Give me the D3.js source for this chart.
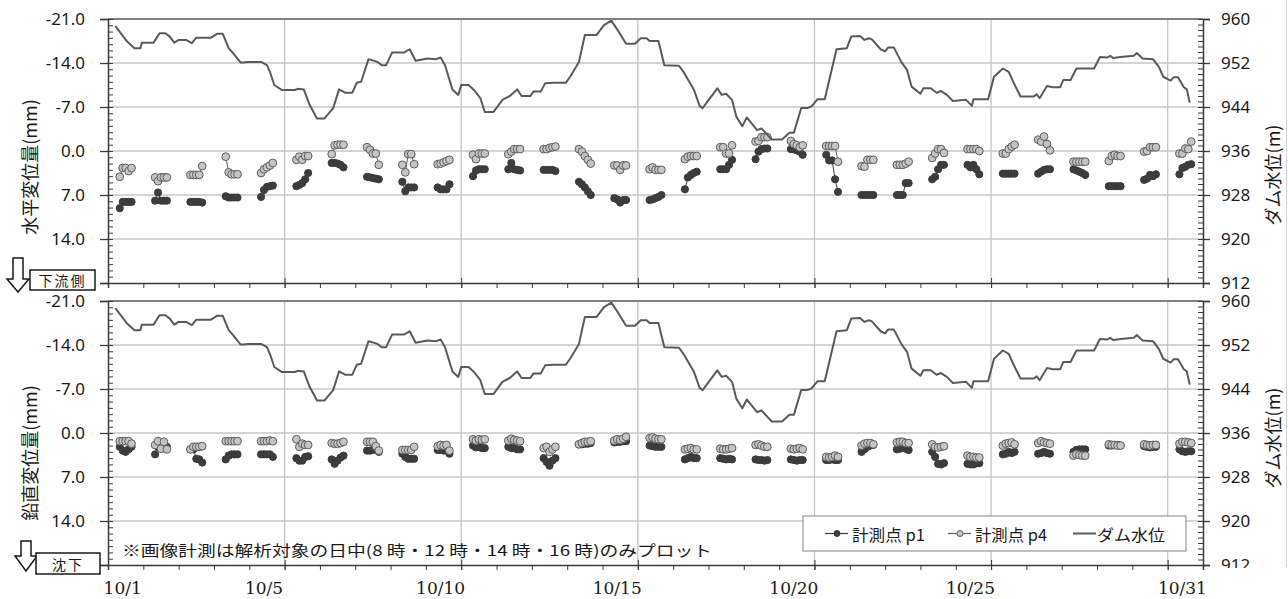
<!DOCTYPE html>
<html>
<head>
<meta charset="utf-8">
<script src="https://cdn.jsdelivr.net/npm/d3@7"></script>
<style>
  body { margin: 0; background: #fff; }
  svg { display: block; }
</style>
</head>
<body>
<svg id="chart" width="1288" height="599"></svg>
<script>
// ---- data -------------------------------------------------------------
// image-measurement hours of each day
const hours = [8, 10, 12, 14, 16];
const days = d3.range(1, 32);

// horizontal displacement (mm), positive = downstream; one row per day
const horizP1 = [
  [9.1, 8.1, 8.1, 8.1, 8.1], [7.9, 6.6, 7.9, 7.9, 7.9], [8.1, 8.1, 8.1, 8.1, 8.2],
  [7.2, 7.4, 7.4, 7.4, 7.4], [7.3, 6.2, 5.7, 5.6, 5.5], [5.6, 5.4, 5.1, 4.5, 3.5],
  [1.9, 1.9, 2.0, 2.2, 2.6], [4.1, 4.2, 4.3, 4.4, 4.5], [4.9, 6.4, 5.8, 5.8, 5.8],
  [5.8, 6.1, 6.1, 6.1, 5.3], [4.0, 3.1, 2.9, 2.9, 2.9], [2.9, 1.9, 2.9, 3.0, 3.1],
  [3.0, 3.0, 3.0, 3.0, 3.2], [4.9, 5.3, 5.8, 6.4, 7.0], [7.5, 7.7, 8.2, 7.8, 7.8],
  [7.8, 7.7, 7.5, 7.3, 7.0], [6.1, 4.2, 3.8, 3.5, 3.3], [2.9, 2.9, 2.9, 2.2, 1.4],
  [1.3, 0.1, -0.3, -0.4, -0.4], [-0.3, -0.3, -0.1, 0.1, 0.6], [0.6, 1.5, 1.5, 4.5, 6.5],
  [7.0, 7.0, 7.0, 7.0, 7.0], [7.0, 7.0, 7.0, 5.1, 5.1], [4.5, 4.1, 2.9, 2.2, 2.2],
  [2.2, 2.6, 2.2, 2.9, 3.7], [3.6, 3.6, 3.6, 3.6, 3.6], [3.6, 3.3, 3.0, 2.9, 2.9],
  [2.9, 3.1, 3.3, 3.5, 3.8], [5.6, 5.6, 5.6, 5.6, 5.6], [4.6, 4.4, 3.8, 4.0, 3.7],
  [3.7, 2.7, 2.5, 2.2, 2.1]
];
const horizP4 = [
  [4.1, 2.7, 2.7, 3.2, 2.7], [4.2, 4.8, 4.2, 4.2, 4.2], [3.8, 3.8, 3.8, 3.8, 2.4],
  [0.9, 3.4, 3.7, 3.7, 3.7], [3.5, 2.9, 2.6, 2.3, 1.9], [1.4, 0.9, 1.4, 0.8, 0.8],
  [0.5, -0.9, -1.0, -1.0, -1.0], [-0.6, -0.2, 0.4, 0.4, 2.2], [2.2, 3.4, 0.5, 0.5, 2.1],
  [2.1, 2.0, 1.8, 1.6, 1.4], [0.6, 1.3, 0.4, 0.4, 0.4], [0.5, 0.1, -0.3, -0.3, -0.3],
  [-0.3, -0.3, -0.5, -0.6, -0.7], [-0.3, 0.1, 0.8, 1.4, 2.0], [2.3, 2.3, 3.0, 2.3, 2.3],
  [2.9, 2.6, 3.0, 3.0, 3.0], [1.3, 0.9, 0.8, 0.8, 0.8], [-0.6, -0.6, 0.4, 0.4, -0.9],
  [-1.5, -1.6, -2.2, -2.2, -2.2], [-1.6, -1.1, -0.9, -0.6, -0.9], [-0.8, -0.8, -0.8, -0.8, 1.7],
  [2.4, 2.5, 1.4, 1.4, 1.4], [2.2, 2.2, 2.2, 2.0, 1.7], [1.1, 0.4, -0.3, -0.3, 0.3],
  [-0.3, -0.3, -0.3, -0.3, 0.0], [0.4, 0.4, -0.3, -0.7, -1.0], [-1.8, -1.5, -2.3, -1.1, -0.1],
  [1.7, 1.7, 1.7, 1.7, 1.7], [1.6, 0.8, 0.6, 0.8, 0.8], [0.1, 0.0, -0.6, -0.6, -0.6],
  [0.4, 0.4, -0.4, -0.3, -1.5]
];

// vertical displacement (mm), positive = settlement
const vertP1 = [
  [2.2, 2.8, 3.0, 2.6, 2.2], [3.4, 2.2, 2.2, 2.2, 2.2], [2.6, 2.6, 4.1, 4.2, 4.7],
  [4.2, 3.6, 3.4, 3.4, 3.4], [3.4, 3.4, 3.4, 3.4, 3.8], [4.0, 4.4, 4.4, 3.8, 3.7],
  [4.2, 4.9, 4.4, 3.9, 3.6], [2.8, 2.8, 2.7, 2.5, 3.0], [3.3, 3.8, 4.1, 4.1, 4.1],
  [2.7, 2.7, 2.8, 2.8, 3.3], [2.0, 2.3, 2.2, 2.4, 2.4], [2.2, 2.4, 2.4, 2.6, 2.6],
  [4.0, 4.6, 5.2, 4.4, 4.0], [1.8, 1.8, 1.7, 1.7, 1.6], [1.5, 1.4, 1.4, 1.3, 1.3],
  [2.0, 2.1, 2.2, 2.2, 2.2], [4.2, 4.0, 3.8, 4.0, 4.0], [4.0, 4.1, 4.2, 4.1, 4.2],
  [4.2, 4.3, 4.3, 4.4, 4.3], [4.2, 4.3, 4.4, 4.3, 4.3], [4.3, 4.3, 4.2, 4.3, 4.3],
  [3.0, 2.6, 2.2, 2.0, 1.9], [2.6, 2.5, 2.2, 2.5, 2.7], [3.0, 3.8, 4.9, 5.0, 4.8],
  [4.9, 5.0, 5.0, 4.8, 4.8], [3.4, 3.3, 3.0, 3.2, 3.0], [3.3, 3.2, 3.0, 3.2, 3.3],
  [3.0, 2.7, 2.6, 2.6, 2.6], [2.0, 2.0, 1.9, 1.9, 2.0], [2.1, 2.2, 2.3, 2.2, 2.2],
  [2.6, 2.9, 3.0, 2.9, 2.9]
];
const vertP4 = [
  [1.3, 1.3, 1.3, 1.3, 1.7], [1.9, 1.3, 2.5, 1.4, 2.6], [2.6, 2.2, 2.2, 2.2, 2.1],
  [1.3, 1.3, 1.3, 1.3, 1.3], [1.3, 1.3, 1.3, 1.2, 1.3], [1.0, 2.2, 1.7, 1.9, 1.9],
  [1.6, 1.7, 1.7, 1.6, 1.4], [1.4, 1.4, 1.4, 2.1, 2.8], [2.7, 2.7, 2.7, 2.7, 2.2],
  [2.1, 1.9, 2.0, 1.9, 2.8], [1.0, 1.2, 1.0, 1.1, 1.0], [1.2, 0.9, 1.1, 1.2, 1.3],
  [2.4, 2.2, 3.0, 2.6, 2.2], [1.8, 1.6, 1.4, 1.4, 1.3], [1.2, 1.0, 1.1, 0.9, 0.6],
  [0.8, 0.7, 0.9, 1.0, 1.0], [2.6, 2.5, 2.4, 2.6, 2.6], [2.5, 2.6, 2.6, 2.5, 2.4],
  [1.9, 1.8, 2.0, 2.2, 2.2], [2.5, 2.6, 2.5, 2.4, 2.6], [3.8, 3.9, 3.8, 3.6, 3.8],
  [2.0, 1.7, 1.6, 1.6, 1.8], [1.5, 1.4, 1.4, 1.6, 1.6], [1.8, 2.2, 2.3, 2.2, 2.1],
  [3.6, 3.8, 3.8, 3.9, 3.9], [2.0, 1.7, 1.6, 1.5, 1.8], [1.6, 1.3, 1.5, 1.6, 1.7],
  [3.6, 3.4, 3.5, 3.6, 3.6], [1.8, 1.9, 1.9, 2.0, 2.0], [1.8, 1.9, 2.0, 1.9, 1.9],
  [1.7, 1.4, 1.4, 1.5, 1.6]
];

// dam water level (m)
const levelTimes = [
  "10/01 05:00", "10/01 13:00", "10/01 18:00", "10/01 22:00", "10/01 23:00", "10/02 07:00",
  "10/02 11:00", "10/02 15:00", "10/02 18:00", "10/02 21:00", "10/03 00:00", "10/03 05:00",
  "10/03 09:00", "10/03 12:00", "10/03 22:00", "10/04 02:00", "10/04 06:00", "10/04 10:00",
  "10/04 13:00", "10/04 18:00", "10/04 20:00", "10/04 23:00", "10/05 08:00", "10/05 12:00",
  "10/05 14:00", "10/05 17:00", "10/05 22:00", "10/06 07:00", "10/06 09:00", "10/06 13:00",
  "10/06 17:00", "10/06 22:00", "10/07 03:00", "10/07 09:00", "10/07 13:00", "10/07 17:00",
  "10/07 22:00", "10/08 01:00", "10/08 04:00", "10/08 09:00", "10/08 15:00", "10/08 18:00",
  "10/08 21:00", "10/09 01:00", "10/09 09:00", "10/09 13:00", "10/09 17:00", "10/10 01:00",
  "10/10 07:00", "10/10 10:00", "10/10 13:00", "10/10 18:00", "10/10 22:00", "10/11 00:00",
  "10/11 05:00", "10/11 09:00", "10/11 13:00", "10/11 16:00", "10/11 22:00", "10/12 04:00",
  "10/12 09:00", "10/12 14:00", "10/12 17:00", "10/12 23:00", "10/13 01:00", "10/13 06:00",
  "10/13 09:00", "10/13 15:00", "10/13 23:00", "10/14 02:00", "10/14 08:00", "10/14 12:00",
  "10/14 20:00", "10/15 01:00", "10/15 06:00", "10/15 11:00", "10/15 16:00", "10/15 22:00",
  "10/16 02:00", "10/16 06:00", "10/16 08:00", "10/16 14:00", "10/16 18:00", "10/17 04:00",
  "10/17 07:00", "10/17 14:00", "10/17 18:00", "10/17 20:00", "10/18 06:00", "10/18 09:00",
  "10/18 12:00", "10/18 16:00", "10/18 19:00", "10/18 23:00", "10/19 02:00", "10/19 09:00",
  "10/19 12:00", "10/19 19:00", "10/20 02:00", "10/20 07:00", "10/20 10:00", "10/20 15:00",
  "10/20 19:00", "10/20 22:00", "10/21 02:00", "10/21 07:00", "10/21 15:00", "10/21 22:00",
  "10/22 01:00", "10/22 07:00", "10/22 10:00", "10/22 13:00", "10/22 15:00", "10/22 21:00",
  "10/23 00:00", "10/23 02:00", "10/23 06:00", "10/23 11:00", "10/23 15:00", "10/23 18:00",
  "10/24 00:00", "10/24 02:00", "10/24 07:00", "10/24 11:00", "10/24 14:00", "10/24 18:00",
  "10/24 22:00", "10/25 07:00", "10/25 11:00", "10/25 12:00", "10/25 22:00", "10/26 02:00",
  "10/26 08:00", "10/26 12:00", "10/26 15:00", "10/26 20:00", "10/27 05:00", "10/27 07:00",
  "10/27 09:00", "10/27 14:00", "10/27 18:00", "10/27 23:00", "10/28 01:00", "10/28 06:00",
  "10/28 10:00", "10/28 22:00", "10/29 02:00", "10/29 07:00", "10/29 09:00", "10/29 11:00",
  "10/29 16:00", "10/30 01:00", "10/30 03:00", "10/30 07:00", "10/30 14:00", "10/30 18:00",
  "10/30 21:00", "10/31 02:00", "10/31 04:00", "10/31 07:00", "10/31 11:00", "10/31 13:00",
  "10/31 15:00"
];
const levelValues = [
  958.7, 955.9, 954.7, 954.7, 955.7, 955.7,
  957.4, 957.4, 956.8, 955.7, 956.2, 956.2,
  955.6, 956.6, 956.6, 957.3, 957.3, 954.7,
  953.8, 952.1, 952.1, 952.2, 952.2, 951.6,
  950.4, 948.0, 947.1, 947.1, 947.3, 947.2,
  944.4, 941.9, 941.9, 943.8, 947.2, 946.6,
  946.6, 948.4, 948.6, 952.7, 952.2, 951.6,
  951.6, 953.9, 953.9, 954.5, 952.4, 952.8,
  952.7, 953.0, 951.6, 947.2, 946.2, 948.0,
  948.0, 947.0, 945.6, 943.1, 943.1, 945.3,
  946.0, 947.2, 946.0, 946.0, 946.8, 946.8,
  948.3, 948.4, 948.4, 949.5, 952.2, 957.1,
  957.1, 958.9, 959.7, 957.7, 955.5, 955.5,
  956.5, 956.5, 956.0, 956.0, 951.6, 951.5,
  950.4, 947.2, 944.2, 943.8, 947.4, 946.2,
  946.4, 945.3, 942.2, 940.5, 942.1, 939.8,
  940.1, 938.1, 938.1, 939.3, 939.3, 943.8,
  943.8, 944.1, 945.4, 945.4, 954.5, 954.7,
  956.8, 956.9, 956.2, 956.5, 956.3, 954.5,
  954.1, 954.8, 954.8, 952.2, 950.7, 947.7,
  946.4, 947.4, 947.4, 946.6, 946.9, 946.2,
  945.1, 945.3, 944.2, 945.4, 945.4, 949.5,
  951.0, 950.4, 948.6, 945.9, 945.9, 946.3,
  945.6, 947.8, 947.6, 947.6, 948.9, 948.9,
  951.0, 951.0, 953.1, 953.0, 953.3, 952.9,
  953.1, 953.3, 953.8, 952.8, 952.7, 951.3,
  949.5, 948.8, 949.4, 949.4, 947.6, 947.2,
  944.8
];

// axis labels
const dispTicks = [-21, -14, -7, 0, 7, 14, 21];
const levelTicks = [960, 952, 944, 936, 928, 920, 912];
const dateLabels = ["10/1", "10/5", "10/10", "10/15", "10/20", "10/25", "10/31"];
const dateLabelDays = [1, 5, 10, 15, 20, 25, 31];
const legendLabels = ["計測点 p1", "計測点 p4", "ダム水位"];

// ---- drawing ----------------------------------------------------------
const svg = d3.select("#chart");
const parseTime = d3.utcParse("%m/%d %H:%M");
const x = d3.scaleUtc()
  .domain([parseTime("10/01 00:00"), parseTime("11/01 00:00")])
  .range([108, 1203]);

const level = levelTimes.map((t, i) => ({ t: parseTime(t), v: levelValues[i] }));
const dayStart = d => parseTime(`10/${d} 00:00`);

const SANS = "'Noto Sans', 'Open Sans', sans-serif";
const CJK = "'Noto Sans CJK JP', 'Noto Sans', sans-serif";
const SERIF = "'DejaVu Serif', 'Liberation Serif', serif";

const C_AXIS = "#3a3a3a";
const C_GRID = "#c6c6c6";
const C_P1 = "#3c3c3c";
const C_P4FILL = "#c4c4c4";
const C_P4LINE = "#5e5e5e";
const C_LEVEL = "#5a5a5a";

const panels = [
  { top: 19, bottom: 283, p1: horizP1, p4: horizP4, title: "水平変位量(mm)", titleY: 167, rTitleY: 175 },
  { top: 301, bottom: 565, p1: vertP1, p4: vertP4, title: "鉛直変位量(mm)", titleY: 453, rTitleY: 438 }
];

panels.forEach((p, idx) => {
  const g = svg.append("g");
  if (idx === 1) {
    // second chart sits on its own white sheet
    g.append("rect").attr("x", 0).attr("y", 289).attr("width", 1284).attr("height", 310).attr("fill", "#fff");
  }
  const y = d3.scaleLinear().domain([-21, 21]).range([p.top, p.bottom]);
  const yR = d3.scaleLinear().domain([960, 912]).range([p.top, p.bottom]);
  const [x0, x1] = x.range();

  // gridlines
  g.append("g").selectAll("line").data(dispTicks.slice(1, -1)).join("line")
    .attr("x1", x0).attr("x2", x1).attr("y1", d => y(d)).attr("y2", d => y(d))
    .attr("stroke", C_GRID).attr("stroke-width", 1.3);
  const gridDates = d3.utcDay.every(5).range(x.domain()[0], x.domain()[1]).filter(d => +d > +x.domain()[0]);
  g.append("g").selectAll("line").data(gridDates).join("line")
    .attr("x1", d => x(d)).attr("x2", d => x(d)).attr("y1", p.top).attr("y2", p.bottom)
    .attr("stroke", C_GRID).attr("stroke-width", 1.3);
  // frame top
  g.append("line").attr("x1", x0).attr("x2", x1).attr("y1", p.top).attr("y2", p.top)
    .attr("stroke", "#808080").attr("stroke-width", 2);

  // left axis: major ticks across the line, minor ticks inside;
  // the lowest value is left unlabelled (the direction mark sits there)
  const leftAxis = g.append("g").attr("transform", `translate(${x0},0)`)
    .call(d3.axisLeft(y).tickValues(dispTicks).tickSize(8).tickPadding(15)
      .tickFormat(d => d === 21 ? "" : d.toFixed(1)));
  leftAxis.select(".domain").attr("stroke", C_AXIS).attr("stroke-width", 1.5);
  leftAxis.selectAll(".tick line").attr("stroke", C_AXIS).attr("stroke-width", 1.3);
  leftAxis.selectAll("text").attr("font-family", SANS).attr("font-size", 17).attr("fill", "#1a1a1a");
  g.append("g").attr("transform", `translate(${x0},0)`)
    .call(d3.axisRight(y).tickValues(d3.range(-21, 22, 1)).tickSize(5).tickFormat(""))
    .call(a => a.select(".domain").remove())
    .selectAll("line").attr("stroke", C_AXIS).attr("stroke-width", 1);

  // right axis: dam water level
  const rightAxis = g.append("g").attr("transform", `translate(${x1},0)`)
    .call(d3.axisRight(yR).tickValues(levelTicks).tickSize(7).tickPadding(11).tickFormat(d3.format("d")));
  rightAxis.select(".domain").attr("stroke", C_AXIS).attr("stroke-width", 1.5);
  rightAxis.selectAll(".tick line").attr("stroke", C_AXIS).attr("stroke-width", 1.3);
  rightAxis.selectAll("text").attr("font-family", SANS).attr("font-size", 17).attr("fill", "#1a1a1a");
  g.append("g").attr("transform", `translate(${x1},0)`)
    .call(d3.axisLeft(yR).tickValues(d3.range(912, 961, 1)).tickSize(5).tickFormat(""))
    .call(a => a.select(".domain").remove())
    .selectAll("line").attr("stroke", C_AXIS).attr("stroke-width", 1);

  // time axis: 5-day ticks across the line, daily ticks below
  const bottomAxis = g.append("g").attr("transform", `translate(0,${p.bottom})`)
    .call(d3.axisBottom(x).ticks(d3.utcDay.every(5)).tickSize(5).tickFormat(""));
  bottomAxis.select(".domain").attr("stroke", C_AXIS).attr("stroke-width", 1.5);
  bottomAxis.selectAll(".tick line").attr("stroke", C_AXIS).attr("y1", -5);
  g.append("g").attr("transform", `translate(0,${p.bottom})`)
    .call(d3.axisBottom(x).ticks(d3.utcDay.every(1)).tickSize(5).tickFormat(""))
    .call(a => a.select(".domain").remove())
    .selectAll("line").attr("stroke", C_AXIS).attr("stroke-width", 1);

  // axis titles
  g.append("text").attr("transform", `translate(29,${p.titleY}) rotate(-90)`)
    .attr("text-anchor", "middle").attr("dominant-baseline", "central")
    .attr("font-family", CJK).attr("font-size", 18).attr("fill", "#1a1a1a").text(p.title);
  g.append("text").attr("transform", `translate(1272,${p.rTitleY}) rotate(-90)`)
    .attr("text-anchor", "middle").attr("dominant-baseline", "central")
    .attr("font-family", CJK).attr("font-size", 18).attr("fill", "#1a1a1a").text("ダム水位(m)");

  // measured displacement: one connected group per day
  const line = d3.line().x(d => x(d.t)).y(d => y(d.v));
  const series = [
    { rows: p.p1, fill: C_P1, stroke: C_P1, r: 3.6 },
    { rows: p.p4, fill: C_P4FILL, stroke: C_P4LINE, r: 3.9 }
  ];
  series.forEach(s => {
    const sg = g.append("g");
    days.forEach((d, di) => {
      const pts = hours.map((h, hi) => ({ t: d3.utcHour.offset(dayStart(d), h), v: s.rows[di][hi] }));
      sg.append("path").attr("d", line(pts)).attr("fill", "none")
        .attr("stroke", s.stroke).attr("stroke-width", 1);
      sg.selectAll(null).data(pts).join("circle")
        .attr("cx", q => x(q.t)).attr("cy", q => y(q.v)).attr("r", s.r)
        .attr("fill", s.fill).attr("stroke", s.stroke).attr("stroke-width", 1);
    });
  });

  // dam water level
  g.append("path").datum(level)
    .attr("d", d3.line().x(d => x(d.t)).y(d => yR(d.v)))
    .attr("fill", "none").attr("stroke", C_LEVEL).attr("stroke-width", 2).attr("stroke-linejoin", "round");
});

// date labels under the lower chart
svg.append("g").selectAll("text").data(dateLabels).join("text")
  .attr("x", (d, i) => x(d3.utcHour.offset(dayStart(dateLabelDays[i]), 10)))
  .attr("y", 594).attr("text-anchor", "middle")
  .attr("font-family", SERIF).attr("font-size", 17).attr("fill", "#1a1a1a").text(d => d);
svg.append("rect").attr("x", 1212).attr("y", 568).attr("width", 60).attr("height", 31).attr("fill", "#fff");

// direction marks at the lower-left of each chart
function directionMark(shaftTop, headY, tipY, cx, box, label) {
  svg.append("path")
    .attr("d", `M${cx - 5},${shaftTop} H${cx + 5} V${headY} H${cx + 11} L${cx},${tipY} L${cx - 11},${headY} H${cx - 5} Z`)
    .attr("fill", "#fff").attr("stroke", "#1a1a1a").attr("stroke-width", 1.5);
  svg.append("rect").attr("x", box[0]).attr("y", box[1]).attr("width", box[2]).attr("height", box[3])
    .attr("fill", "#fff").attr("stroke", "#1a1a1a").attr("stroke-width", 1.5);
  svg.append("text").attr("x", box[0] + box[2] / 2).attr("y", box[1] + box[3] / 2)
    .attr("text-anchor", "middle").attr("dominant-baseline", "central")
    .attr("font-family", CJK).attr("font-size", 14).attr("letter-spacing", 2).attr("fill", "#1a1a1a").text(label);
}
directionMark(258, 279, 292, 18, [30, 270, 65, 20], "下流側");
directionMark(541, 556, 571, 26, [36, 553, 64, 21], "沈下");

// note
svg.append("text").attr("x", 122).attr("y", 549).attr("dominant-baseline", "central")
  .attr("font-family", CJK).attr("font-size", 15).attr("fill", "#1a1a1a")
  .attr("textLength", 590).attr("lengthAdjust", "spacingAndGlyphs")
  .text("※画像計測は解析対象の日中(8 時・12 時・14 時・16 時)のみプロット");

// legend
const lg = svg.append("g");
lg.append("rect").attr("x", 803).attr("y", 516).attr("width", 383).attr("height", 35)
  .attr("fill", "#fff").attr("stroke", "#9a9a9a").attr("stroke-width", 1.2);
const legendItems = [
  { x: 825, tx: 852, len: 73, kind: "p1" },
  { x: 948, tx: 975, len: 72, kind: "p4" },
  { x: 1073, tx: 1097, len: 68, kind: "level" }
];
legendItems.forEach((it, i) => {
  const ly = 533.5;
  lg.append("line").attr("x1", it.x).attr("x2", it.x + 23).attr("y1", ly).attr("y2", ly)
    .attr("stroke", it.kind === "level" ? C_LEVEL : (it.kind === "p1" ? C_P1 : C_P4LINE))
    .attr("stroke-width", it.kind === "level" ? 2 : 1.2);
  if (it.kind !== "level") {
    lg.append("circle").attr("cx", it.x + 12).attr("cy", ly).attr("r", 3)
      .attr("fill", it.kind === "p1" ? C_P1 : C_P4FILL).attr("stroke", it.kind === "p1" ? C_P1 : C_P4LINE);
  }
  lg.append("text").attr("x", it.tx).attr("y", ly).attr("dominant-baseline", "central")
    .attr("font-family", CJK).attr("font-size", 16).attr("fill", "#1a1a1a")
    .attr("textLength", it.len).attr("lengthAdjust", "spacingAndGlyphs").text(legendLabels[i]);
});

// thin page edge on the right
svg.append("line").attr("x1", 1286.5).attr("x2", 1286.5).attr("y1", 0).attr("y2", 567)
  .attr("stroke", "#d4d4d4").attr("stroke-width", 1);
</script>
</body>
</html>
